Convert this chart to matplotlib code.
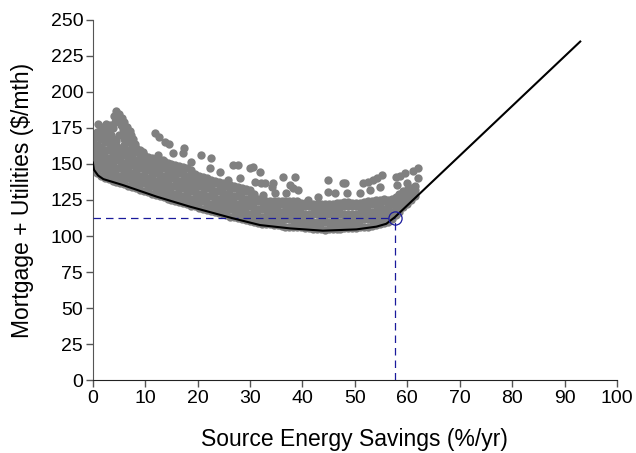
import matplotlib
matplotlib.use("Agg")
import matplotlib.pyplot as plt

plt.rcParams['font.family'] = ['Liberation Sans', 'DejaVu Sans']

# optimal (least-cost) curve
curve_x = [0, 0.2, 1, 2, 5.7, 12.2, 18.5, 26.7, 31.9, 37.6, 43.9, 50.3, 54.1, 56.0, 57.6, 93.0]
curve_y = [151, 146, 142, 139.5, 135.4, 127.3, 120.4, 112.3, 107.6, 105.3, 103.7, 104.6, 106.5, 108.5, 113.0, 235.0]

# selected point
opt_x = 57.6
opt_y = 112.5

# dense band of simulated designs, column by column
band_cols = [
    (0.0, [146, 151, 156, 161, 166, 170]),
    (0.75, [143.5, 148.5, 153.5, 158.5, 163.5, 168.5, 172]),
    (1.5, [142, 147, 152, 157, 162, 167, 172, 175]),
    (2.25, [140, 145, 150, 155, 160, 165, 170, 173]),
    (3.0, [139.5, 144.5, 149.5, 154.5, 159.5, 164.5, 169.5, 172]),
    (3.75, [138.5, 143.5, 148.5, 153.5, 158.5, 163.5, 167]),
    (4.5, [137.5, 142.5, 147.5, 152.5, 157.5, 162.5, 166]),
    (5.25, [137, 142, 147, 152, 157, 161]),
    (6.0, [136, 141, 146, 151, 156, 160, 163]),
    (6.75, [135, 140, 145, 150, 155, 160]),
    (7.5, [134, 139, 144, 149, 154, 159, 162]),
    (8.25, [133, 138, 143, 148, 153, 158, 160]),
    (9.0, [132, 137, 142, 147, 152, 157]),
    (9.75, [131.5, 136.5, 141.5, 146.5, 151.5, 156]),
    (10.5, [130.5, 135.5, 140.5, 145.5, 150.5, 155]),
    (11.25, [129.5, 134.5, 139.5, 144.5, 149.5, 154]),
    (12.0, [128.5, 133.5, 138.5, 143.5, 148.5, 152]),
    (12.75, [127.5, 132.5, 137.5, 142.5, 147.5, 152]),
    (13.5, [127, 132, 137, 142, 147, 152]),
    (14.25, [126, 131, 136, 141, 146, 151]),
    (15.0, [125, 130, 135, 140, 145, 150]),
    (15.75, [124.5, 129.5, 134.5, 139.5, 144.5, 149.5]),
    (16.5, [123.5, 128.5, 133.5, 138.5, 143.5, 148.5]),
    (17.25, [123, 128, 133, 138, 143, 148]),
    (18.0, [122, 127, 132, 137, 142, 147]),
    (18.75, [121, 126, 131, 136, 141, 145.5]),
    (19.5, [120.5, 125.5, 130.5, 135.5, 140.5, 143]),
    (20.25, [119.5, 124.5, 129.5, 134.5, 139.5, 141.5]),
    (21.0, [119, 124, 129, 134, 139, 141]),
    (21.75, [118, 123, 128, 133, 138, 140]),
    (22.5, [117.5, 122.5, 127.5, 132.5, 137.5, 139]),
    (23.25, [116.5, 121.5, 126.5, 131.5, 136.5, 138]),
    (24.0, [116, 121, 126, 131, 136, 137.5]),
    (24.75, [115, 120, 125, 130, 135, 136.5]),
    (25.5, [114.5, 119.5, 124.5, 129.5, 134.5, 136]),
    (26.25, [113.5, 118.5, 123.5, 128.5, 133.5, 135.5]),
    (27.0, [113, 118, 123, 128, 133, 135]),
    (27.75, [112.5, 117.5, 122.5, 127.5, 132.5, 134]),
    (28.5, [111.5, 116.5, 121.5, 126.5, 131.5, 133]),
    (29.25, [111, 116, 121, 126, 131, 132.5]),
    (30.0, [110.5, 115.5, 120.5, 125.5, 130.5, 132]),
    (30.75, [109.5, 114.5, 119.5, 124.5, 129]),
    (31.5, [109, 114, 119, 124, 126]),
    (32.25, [108.5, 113.5, 118.5, 123.5, 125]),
    (33.0, [108, 113, 118, 123, 124.5]),
    (33.75, [108, 113, 118, 123, 124.5]),
    (34.5, [107.5, 112.5, 117.5, 122.5, 124.5]),
    (35.25, [107.5, 112.5, 117.5, 122.5, 124.5]),
    (36.0, [107, 112, 117, 122, 124]),
    (36.75, [106.5, 111.5, 116.5, 121.5, 124]),
    (37.5, [106.5, 111.5, 116.5, 121.5, 124]),
    (38.25, [106, 111, 116, 121, 124]),
    (39.0, [106, 111, 116, 121, 124]),
    (39.75, [106, 111, 116, 121, 123]),
    (40.5, [105.5, 110.5, 115.5, 120.5, 123]),
    (41.25, [105.5, 110.5, 115.5, 120.5, 122.5]),
    (42.0, [105, 110, 115, 120, 122]),
    (42.75, [105, 110, 115, 120, 122]),
    (43.5, [105, 110, 115, 120, 122]),
    (44.25, [104.5, 109.5, 114.5, 119.5, 122]),
    (45.0, [105, 110, 115, 120, 122]),
    (45.75, [105, 110, 115, 120, 122]),
    (46.5, [105, 110, 115, 120, 123]),
    (47.25, [105, 110, 115, 120, 123]),
    (48.0, [105.5, 110.5, 115.5, 120.5, 123.5]),
    (48.75, [105.5, 110.5, 115.5, 120.5, 123.5]),
    (49.5, [105.5, 110.5, 115.5, 120.5, 123]),
    (50.25, [105.5, 110.5, 115.5, 120.5, 123]),
    (51.0, [106, 111, 116, 121, 123]),
    (51.75, [106.5, 111.5, 116.5, 121.5, 123.5]),
    (52.5, [106.5, 111.5, 116.5, 121.5, 124]),
    (53.25, [107, 112, 117, 122, 124.5]),
    (54.0, [107.5, 112.5, 117.5, 122.5, 125]),
    (54.75, [108, 113, 118, 123, 125]),
    (55.5, [109, 114, 119, 124, 125.5]),
    (56.25, [110, 115, 120, 125]),
    (57.0, [112, 117, 122, 126]),
    (57.75, [114.5, 119.5, 124.5, 127]),
    (58.5, [117, 122, 127, 129]),
    (59.25, [120, 125, 130, 131.5]),
    (60.0, [122.5, 127.5, 132]),
    (60.75, [125, 130, 133.5]),
    (61.5, [127.5, 132, 135]),
]

# scattered designs above the band
out_x = [4.5, 5, 5.5, 6, 6.5, 7, 7.3, 7.6, 8, 8.3,
         4, 4.2, 4.8, 5.3, 5.8, 6.3, 6.8, 3.8, 3.2, 2.5, 5, 6, 7,
         1, 2, 3, 3.5, 9, 9.6,
         11.8, 12.7, 13.7, 14.6, 12.5, 13.4,
         15.3, 17.3, 17.2, 20.7, 22.6, 18.8, 22.3, 24.2, 26.8, 27.7, 30, 25.8, 28, 24,
         30.6, 31.9, 30.9, 32, 32.8, 34.4, 36.3, 38.5, 37.6, 38.2, 32.5, 34.7, 36.9,
         39.2, 41.1, 43, 44.9, 44.9, 48.1, 34.1,
         47.8, 48.4, 51.6, 52.5, 53.5, 54.3, 55.1, 57.9, 58.7, 59.5, 46.2, 51, 52.9,
         54.8, 58, 60, 62, 61, 62]
out_y = [187, 185, 182, 179, 176, 173, 170, 167, 164, 161,
         183, 179, 180, 177, 174, 171, 168, 175, 177, 178, 170, 167, 165,
         178, 176, 174, 170, 160, 158,
         171.5, 169, 165.6, 164, 156, 153,
         157.4, 161, 157.4, 156, 153.9, 151.6, 147, 144.6, 149.3, 149.3, 147, 139, 140, 136.6,
         148, 144.7, 137.7, 137, 136.8, 136.8, 141, 141, 135.4, 133.3, 128.5, 129.9, 129.9,
         131.9, 125, 127.3, 130.8, 139, 136.6, 134.3,
         136.6, 129.6, 136.6, 137.5, 138.9, 140.5, 142.4, 141, 142, 143.5, 129.6, 129.6, 131.9,
         134.3, 135.4, 136.6, 147, 145, 140]

band_x = [x for x, ys in band_cols for _ in ys]
band_y = [y for _, ys in band_cols for y in ys]

fig = plt.figure(figsize=(6.36, 4.53), dpi=100)
ax = fig.add_axes([0.146, 0.161, 0.824, 0.795])

gray = '#808080'
ax.scatter(band_x, band_y, s=36, color=gray, linewidths=0, zorder=2)
ax.scatter(out_x, out_y, s=36, color=gray, linewidths=0, zorder=2)

navy = '#1a1a9c'
ax.plot([0, opt_x], [opt_y, opt_y], color=navy, lw=0.9, ls=(0, (6, 4)), zorder=3)
ax.plot([opt_x, opt_x], [0, opt_y], color=navy, lw=0.9, ls=(0, (6, 4)), zorder=3)

ax.plot(curve_x, curve_y, color='black', lw=1.5, zorder=4)
ax.plot([opt_x], [opt_y], 'o', mfc='none', mec=navy, ms=9.5, mew=0.9, zorder=5)

ax.set_xlim(0, 100)
ax.set_ylim(0, 250)
ax.set_xticks(range(0, 101, 10))
ax.set_yticks(range(0, 251, 25))

for s in ['top', 'right']:
    ax.spines[s].set_visible(False)
ax.spines['left'].set_color('#555555')
ax.spines['bottom'].set_color('#222222')
ax.tick_params(direction='out', length=5, width=1, color='#555555', labelsize=14, pad=2)

ax.set_xlabel('Source Energy Savings (%/yr)', fontsize=16.5, labelpad=15)
ax.set_ylabel('Mortgage + Utilities (\\$/mth)', fontsize=16.5, labelpad=12)

fig.savefig('out.png', dpi=100)
